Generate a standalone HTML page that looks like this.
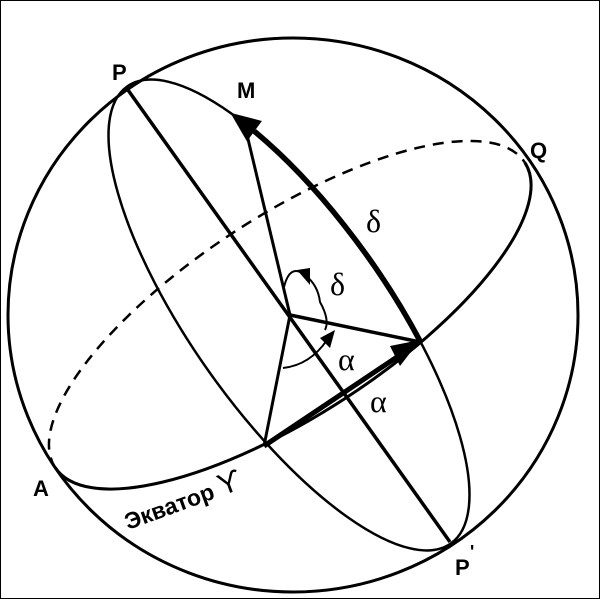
<!DOCTYPE html>
<html><head><meta charset="utf-8"><style>
html,body{margin:0;padding:0;background:#fff;}
svg{display:block;}
.b{font-family:"Liberation Sans",sans-serif;font-weight:bold;font-size:22px;}
.g{font-family:"Liberation Serif",serif;font-size:32px;}
</style></head><body>
<svg width="600" height="599" viewBox="0 0 600 599" xmlns="http://www.w3.org/2000/svg">
<rect x="0.5" y="0.5" width="599" height="598" fill="#fff" stroke="#000" stroke-width="1"/>
<ellipse cx="293" cy="315" rx="285" ry="277" fill="none" stroke="#000" stroke-width="3"/>
<g transform="translate(290,315) rotate(-33)">
  <path d="M -280 0 A 280 100 0 0 0 280 0" fill="none" stroke="#000" stroke-width="3"/>
  <path d="M -280 0 A 280 100 0 0 1 280 0" fill="none" stroke="#000" stroke-width="2.5" stroke-dasharray="11 8"/>
</g>
<g transform="translate(289,315) rotate(54.7)">
  <ellipse cx="0" cy="0" rx="280" ry="98" fill="none" stroke="#000" stroke-width="2.5"/>
  <path d="M 97 -91.9 A 280 98 0 0 0 -170 -77.9" fill="none" stroke="#000" stroke-width="5.5"/>
  <polygon points="-199,-69 -166,-66 -174,-90" fill="#000"/>
</g>
<line x1="128" y1="90" x2="450" y2="542" stroke="#000" stroke-width="3.5"/>
<line x1="290" y1="315" x2="243" y2="118" stroke="#000" stroke-width="3"/>
<line x1="290" y1="315" x2="420" y2="342" stroke="#000" stroke-width="3.5"/>
<line x1="290" y1="315" x2="264" y2="446" stroke="#000" stroke-width="3"/>
<path d="M 264 446 Q 340 395 400 355" fill="none" stroke="#000" stroke-width="5"/>
<polygon points="420,340 400,366 390,346" fill="#000"/>
<path d="M 284 287 Q 290 263 305 275 Q 318 285 320 302 Q 330 320 325 330" fill="none" stroke="#000" stroke-width="2"/>
<polygon points="297,270 310,285 310,268" fill="#000"/>
<path d="M 283 368 Q 310 365 327 340" fill="none" stroke="#000" stroke-width="2"/>
<polygon points="335,330 330,348 320,338" fill="#000"/>
<text class="b" x="112" y="80">P</text>
<text class="b" x="237" y="98">M</text>
<text class="b" x="530" y="158">Q</text>
<text class="b" x="33" y="496">A</text>
<text class="b" x="455" y="575">P</text>
<text class="b" x="470" y="558" style="font-size:18px">'</text>
<text class="g" x="366" y="232">δ</text>
<text class="g" x="330" y="295">δ</text>
<text class="g" x="338" y="370">α</text>
<text class="g" x="370" y="412">α</text>
<text class="b" x="128" y="530" transform="rotate(-20 128 530)" style="font-size:23px">Экватор <tspan style="font-size:30px;font-weight:normal">ϒ</tspan></text>
</svg>
</body></html>
